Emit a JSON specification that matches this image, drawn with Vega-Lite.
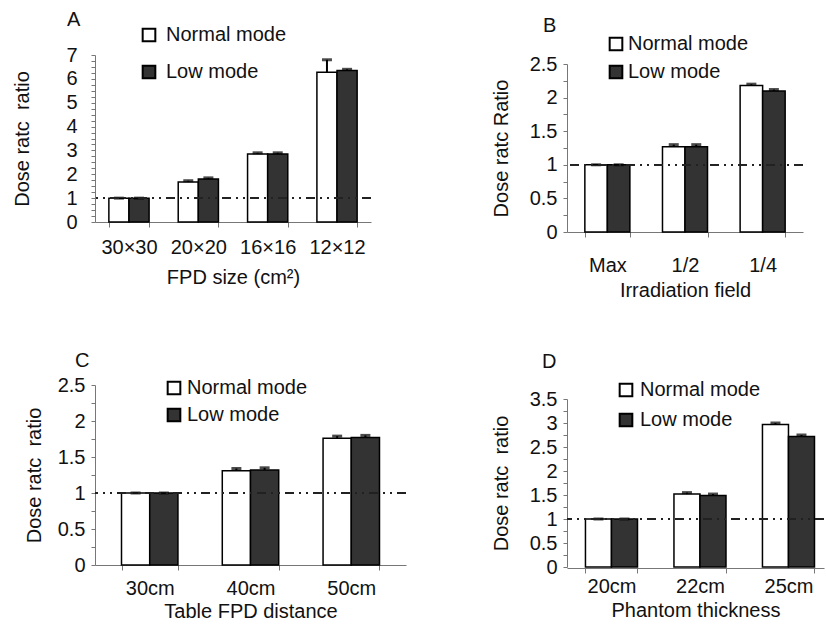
{
  "$schema": "https://vega.github.io/schema/vega-lite/v6.json",
  "background": "white",
  "padding": {"left": 12, "top": 10, "right": 0, "bottom": 0},
  "config": {
    "font": "Liberation Sans",
    "view": {"stroke": null},
    "axis": {"labelFontSize": 20, "titleFontSize": 20, "titleFontWeight": "normal", "labelColor": "#111", "titleColor": "#111", "domainColor": "#777", "tickColor": "#777", "grid": false, "labelOverlap": false, "labelFont": "Liberation Sans", "titleFont": "Liberation Sans"},
    "legend": {"padding": 0, "labelFontSize": 20, "labelColor": "#111", "labelFont": "Liberation Sans", "symbolType": "square", "symbolSize": 160, "symbolStrokeColor": "black", "symbolStrokeWidth": 2},
    "title": {"fontSize": 20, "fontWeight": "normal", "anchor": "start", "frame": "group", "color": "#111", "font": "Liberation Sans"}
  },
  "datasets": {
    "A": [
      {"category": "30×30", "mode": "Normal mode", "value": 1, "hi": 1},
      {"category": "30×30", "mode": "Low mode", "value": 1, "hi": 1},
      {"category": "20×20", "mode": "Normal mode", "value": 1.68, "hi": 1.73},
      {"category": "20×20", "mode": "Low mode", "value": 1.8, "hi": 1.85},
      {"category": "16×16", "mode": "Normal mode", "value": 2.85, "hi": 2.9},
      {"category": "16×16", "mode": "Low mode", "value": 2.85, "hi": 2.9},
      {"category": "12×12", "mode": "Normal mode", "value": 6.28, "hi": 6.8},
      {"category": "12×12", "mode": "Low mode", "value": 6.35, "hi": 6.4}
    ],
    "B": [
      {"category": "Max", "mode": "Normal mode", "value": 1, "hi": 1},
      {"category": "Max", "mode": "Low mode", "value": 1, "hi": 1},
      {"category": "1/2", "mode": "Normal mode", "value": 1.27, "hi": 1.3},
      {"category": "1/2", "mode": "Low mode", "value": 1.27, "hi": 1.3},
      {"category": "1/4", "mode": "Normal mode", "value": 2.18, "hi": 2.2},
      {"category": "1/4", "mode": "Low mode", "value": 2.1, "hi": 2.12}
    ],
    "C": [
      {"category": "30cm", "mode": "Normal mode", "value": 1, "hi": 1},
      {"category": "30cm", "mode": "Low mode", "value": 1, "hi": 1},
      {"category": "40cm", "mode": "Normal mode", "value": 1.31, "hi": 1.34},
      {"category": "40cm", "mode": "Low mode", "value": 1.32, "hi": 1.35},
      {"category": "50cm", "mode": "Normal mode", "value": 1.76, "hi": 1.79},
      {"category": "50cm", "mode": "Low mode", "value": 1.77, "hi": 1.8}
    ],
    "D": [
      {"category": "20cm", "mode": "Normal mode", "value": 1, "hi": 1},
      {"category": "20cm", "mode": "Low mode", "value": 1, "hi": 1},
      {"category": "22cm", "mode": "Normal mode", "value": 1.52, "hi": 1.55},
      {"category": "22cm", "mode": "Low mode", "value": 1.49, "hi": 1.52},
      {"category": "25cm", "mode": "Normal mode", "value": 2.97, "hi": 3.0},
      {"category": "25cm", "mode": "Low mode", "value": 2.72, "hi": 2.75}
    ]
  },
  "bounds": "flush",
  "align": "each",
  "columns": 2,
  "spacing": {"row": 153, "column": 161},
  "resolve": {"scale": {"x": "independent", "y": "independent", "xOffset": "independent", "color": "independent"}, "legend": {"color": "independent"}, "axis": {"x": "independent", "y": "independent"}},
  "concat": [
    {
      "title": {"text": "A", "dx": -28, "dy": 9},
      "width": 276,
      "height": 167,
      "data": {"name": "A"},
      "encoding": {
        "x": {"field": "category", "type": "nominal", "sort": null, "scale": {"paddingInner": 0.42}, "axis": {"title": "FPD size (cm²)", "labelAngle": 0, "tickBand": "extent", "tickSize": 5, "labelPadding": 10, "titlePadding": 10}},
        "xOffset": {"field": "mode", "type": "nominal", "sort": ["Normal mode", "Low mode"]}
      },
      "layer": [
        {
          "mark": {"type": "bar", "stroke": "black", "strokeWidth": 1.5},
          "encoding": {
            "y": {"field": "value", "type": "quantitative", "scale": {"domain": [0, 7], "nice": false}, "axis": {"title": "Dose ratc\u00a0 ratio", "titleX": -63, "values": [0, 0.25, 0.5, 0.75, 1, 1.25, 1.5, 1.75, 2, 2.25, 2.5, 2.75, 3, 3.25, 3.5, 3.75, 4, 4.25, 4.5, 4.75, 5, 5.25, 5.5, 5.75, 6, 6.25, 6.5, 6.75, 7], "labelExpr": "datum.value % 1 == 0 ? format(datum.value, '~g') : ''", "tickSize": 4, "labelPadding": 14}},
            "color": {"field": "mode", "type": "nominal", "scale": {"domain": ["Normal mode", "Low mode"], "range": ["white", "#333333"]}, "legend": {"title": null, "orient": "none", "legendX": 44, "legendY": -30, "rowPadding": 15, "labelOffset": 7}}
          }
        },
        {
          "mark": {"type": "rule", "color": "black", "strokeWidth": 2},
          "encoding": {"y": {"field": "value", "type": "quantitative", "axis": {"title": "Dose ratc\u00a0 ratio", "titleX": -63, "values": [0, 0.25, 0.5, 0.75, 1, 1.25, 1.5, 1.75, 2, 2.25, 2.5, 2.75, 3, 3.25, 3.5, 3.75, 4, 4.25, 4.5, 4.75, 5, 5.25, 5.5, 5.75, 6, 6.25, 6.5, 6.75, 7], "labelExpr": "datum.value % 1 == 0 ? format(datum.value, '~g') : ''", "tickSize": 4, "labelPadding": 14}}, "y2": {"field": "hi"}}
        },
        {
          "mark": {"type": "tick", "color": "black", "thickness": 3, "size": 10},
          "encoding": {"y": {"field": "hi", "type": "quantitative", "axis": {"title": "Dose ratc\u00a0 ratio", "titleX": -63, "values": [0, 0.25, 0.5, 0.75, 1, 1.25, 1.5, 1.75, 2, 2.25, 2.5, 2.75, 3, 3.25, 3.5, 3.75, 4, 4.25, 4.5, 4.75, 5, 5.25, 5.5, 5.75, 6, 6.25, 6.5, 6.75, 7], "labelExpr": "datum.value % 1 == 0 ? format(datum.value, '~g') : ''", "tickSize": 4, "labelPadding": 14}}}
        },
        {
          "mark": {"type": "rule", "color": "#222", "strokeWidth": 1.5, "strokeDash": [9, 5, 2, 5, 2, 5]},
          "encoding": {"y": {"datum": 1, "type": "quantitative", "axis": {"title": "Dose ratc\u00a0 ratio", "titleX": -63, "values": [0, 0.25, 0.5, 0.75, 1, 1.25, 1.5, 1.75, 2, 2.25, 2.5, 2.75, 3, 3.25, 3.5, 3.75, 4, 4.25, 4.5, 4.75, 5, 5.25, 5.5, 5.75, 6, 6.25, 6.5, 6.75, 7], "labelExpr": "datum.value % 1 == 0 ? format(datum.value, '~g') : ''", "tickSize": 4, "labelPadding": 14}}, "x": null, "xOffset": null}
        }
      ]
    },
    {
      "title": {"text": "B", "dx": -24, "dy": 6},
      "width": 236,
      "height": 177,
      "data": {"name": "B"},
      "encoding": {
        "x": {"field": "category", "type": "nominal", "sort": null, "scale": {"paddingInner": 0.42, "paddingOuter": 0.23}, "axis": {"title": "Irradiation field", "labelAngle": 0, "tickBand": "extent", "tickSize": 5, "labelPadding": 18, "titlePadding": 5}},
        "xOffset": {"field": "mode", "type": "nominal", "sort": ["Normal mode", "Low mode"]}
      },
      "layer": [
        {
          "mark": {"type": "bar", "stroke": "black", "strokeWidth": 1.5},
          "encoding": {
            "y": {"field": "value", "type": "quantitative", "scale": {"domain": [0, 2.5], "nice": false, "range": [177, 9]}, "axis": {"title": "Dose ratc Ratio", "titleX": -56, "values": [0, 0.25, 0.5, 0.75, 1, 1.25, 1.5, 1.75, 2, 2.25, 2.5], "labelExpr": "(datum.value * 2) % 1 == 0 ? format(datum.value, '~g') : ''", "tickSize": 4, "labelPadding": 6}},
            "color": {"field": "mode", "type": "nominal", "scale": {"domain": ["Normal mode", "Low mode"], "range": ["white", "#333333"]}, "legend": {"title": null, "orient": "none", "legendX": 39, "legendY": -21, "rowPadding": 6, "labelOffset": 2}}
          }
        },
        {
          "mark": {"type": "rule", "color": "black", "strokeWidth": 2},
          "encoding": {"y": {"field": "value", "type": "quantitative", "axis": {"title": "Dose ratc Ratio", "titleX": -56, "values": [0, 0.25, 0.5, 0.75, 1, 1.25, 1.5, 1.75, 2, 2.25, 2.5], "labelExpr": "(datum.value * 2) % 1 == 0 ? format(datum.value, '~g') : ''", "tickSize": 4, "labelPadding": 6}}, "y2": {"field": "hi"}}
        },
        {
          "mark": {"type": "tick", "color": "black", "thickness": 3, "size": 10},
          "encoding": {"y": {"field": "hi", "type": "quantitative", "axis": {"title": "Dose ratc Ratio", "titleX": -56, "values": [0, 0.25, 0.5, 0.75, 1, 1.25, 1.5, 1.75, 2, 2.25, 2.5], "labelExpr": "(datum.value * 2) % 1 == 0 ? format(datum.value, '~g') : ''", "tickSize": 4, "labelPadding": 6}}}
        },
        {
          "mark": {"type": "rule", "color": "#222", "strokeWidth": 1.5, "strokeDash": [9, 5, 2, 5, 2, 5]},
          "encoding": {"y": {"datum": 1, "type": "quantitative", "axis": {"title": "Dose ratc Ratio", "titleX": -56, "values": [0, 0.25, 0.5, 0.75, 1, 1.25, 1.5, 1.75, 2, 2.25, 2.5], "labelExpr": "(datum.value * 2) % 1 == 0 ? format(datum.value, '~g') : ''", "tickSize": 4, "labelPadding": 6}}, "x": null, "xOffset": null}
        }
      ]
    },
    {
      "title": {"text": "C", "dx": -20},
      "width": 311,
      "height": 180,
      "data": {"name": "C"},
      "encoding": {
        "x": {"field": "category", "type": "nominal", "sort": null, "scale": {"paddingInner": 0.44, "paddingOuter": 0.263}, "axis": {"title": "Table FPD distance", "labelAngle": 0, "tickBand": "extent", "tickSize": 5, "labelPadding": 8, "titlePadding": 3}},
        "xOffset": {"field": "mode", "type": "nominal", "sort": ["Normal mode", "Low mode"]}
      },
      "layer": [
        {
          "mark": {"type": "bar", "stroke": "black", "strokeWidth": 1.5},
          "encoding": {
            "y": {"field": "value", "type": "quantitative", "scale": {"domain": [0, 2.5], "nice": false}, "axis": {"title": "Dose ratc\u00a0 ratio", "titleX": -51, "values": [0, 0.25, 0.5, 0.75, 1, 1.25, 1.5, 1.75, 2, 2.25, 2.5], "labelExpr": "(datum.value * 2) % 1 == 0 ? format(datum.value, '~g') : ''", "tickSize": 4, "labelPadding": 6}},
            "color": {"field": "mode", "type": "nominal", "scale": {"domain": ["Normal mode", "Low mode"], "range": ["white", "#333333"]}, "legend": {"title": null, "orient": "none", "legendX": 69, "legendY": -7, "rowPadding": 5, "labelOffset": 3}}
          }
        },
        {
          "mark": {"type": "rule", "color": "black", "strokeWidth": 2},
          "encoding": {"y": {"field": "value", "type": "quantitative", "axis": {"title": "Dose ratc\u00a0 ratio", "titleX": -51, "values": [0, 0.25, 0.5, 0.75, 1, 1.25, 1.5, 1.75, 2, 2.25, 2.5], "labelExpr": "(datum.value * 2) % 1 == 0 ? format(datum.value, '~g') : ''", "tickSize": 4, "labelPadding": 6}}, "y2": {"field": "hi"}}
        },
        {
          "mark": {"type": "tick", "color": "black", "thickness": 3, "size": 10},
          "encoding": {"y": {"field": "hi", "type": "quantitative", "axis": {"title": "Dose ratc\u00a0 ratio", "titleX": -51, "values": [0, 0.25, 0.5, 0.75, 1, 1.25, 1.5, 1.75, 2, 2.25, 2.5], "labelExpr": "(datum.value * 2) % 1 == 0 ? format(datum.value, '~g') : ''", "tickSize": 4, "labelPadding": 6}}}
        },
        {
          "mark": {"type": "rule", "color": "#222", "strokeWidth": 1.5, "strokeDash": [9, 5, 2, 5, 2, 5]},
          "encoding": {"y": {"datum": 1, "type": "quantitative", "axis": {"title": "Dose ratc\u00a0 ratio", "titleX": -51, "values": [0, 0.25, 0.5, 0.75, 1, 1.25, 1.5, 1.75, 2, 2.25, 2.5], "labelExpr": "(datum.value * 2) % 1 == 0 ? format(datum.value, '~g') : ''", "tickSize": 4, "labelPadding": 6}}, "x": null, "xOffset": null}
        }
      ]
    },
    {
      "title": {"text": "D", "dx": -25, "dy": -4},
      "width": 257,
      "height": 183,
      "data": {"name": "D"},
      "encoding": {
        "x": {"field": "category", "type": "nominal", "sort": null, "scale": {"paddingInner": 0.412, "paddingOuter": 0.158, "align": 0.66}, "axis": {"title": "Phantom thickness", "labelAngle": 0, "tickBand": "extent", "tickSize": 5, "labelPadding": 3, "titlePadding": 4}},
        "xOffset": {"field": "mode", "type": "nominal", "sort": ["Normal mode", "Low mode"]}
      },
      "layer": [
        {
          "mark": {"type": "bar", "stroke": "black", "strokeWidth": 1.5},
          "encoding": {
            "y": {"field": "value", "type": "quantitative", "scale": {"domain": [0, 3.5], "nice": false, "range": [182, 14]}, "axis": {"title": "Dose ratc\u00a0 ratio", "titleX": -56, "values": [0, 0.25, 0.5, 0.75, 1, 1.25, 1.5, 1.75, 2, 2.25, 2.5, 2.75, 3, 3.25, 3.5], "labelExpr": "(datum.value * 2) % 1 == 0 ? format(datum.value, '~g') : ''", "tickSize": 4, "labelPadding": 6}},
            "color": {"field": "mode", "type": "nominal", "scale": {"domain": ["Normal mode", "Low mode"], "range": ["white", "#333333"]}, "legend": {"title": null, "orient": "none", "legendX": 49, "legendY": -5, "rowPadding": 8, "labelOffset": 4}}
          }
        },
        {
          "mark": {"type": "rule", "color": "black", "strokeWidth": 2},
          "encoding": {"y": {"field": "value", "type": "quantitative", "axis": {"title": "Dose ratc\u00a0 ratio", "titleX": -56, "values": [0, 0.25, 0.5, 0.75, 1, 1.25, 1.5, 1.75, 2, 2.25, 2.5, 2.75, 3, 3.25, 3.5], "labelExpr": "(datum.value * 2) % 1 == 0 ? format(datum.value, '~g') : ''", "tickSize": 4, "labelPadding": 6}}, "y2": {"field": "hi"}}
        },
        {
          "mark": {"type": "tick", "color": "black", "thickness": 3, "size": 10},
          "encoding": {"y": {"field": "hi", "type": "quantitative", "axis": {"title": "Dose ratc\u00a0 ratio", "titleX": -56, "values": [0, 0.25, 0.5, 0.75, 1, 1.25, 1.5, 1.75, 2, 2.25, 2.5, 2.75, 3, 3.25, 3.5], "labelExpr": "(datum.value * 2) % 1 == 0 ? format(datum.value, '~g') : ''", "tickSize": 4, "labelPadding": 6}}}
        },
        {
          "mark": {"type": "rule", "color": "#222", "strokeWidth": 1.5, "strokeDash": [9, 5, 2, 5, 2, 5]},
          "encoding": {"y": {"datum": 1, "type": "quantitative", "axis": {"title": "Dose ratc\u00a0 ratio", "titleX": -56, "values": [0, 0.25, 0.5, 0.75, 1, 1.25, 1.5, 1.75, 2, 2.25, 2.5, 2.75, 3, 3.25, 3.5], "labelExpr": "(datum.value * 2) % 1 == 0 ? format(datum.value, '~g') : ''", "tickSize": 4, "labelPadding": 6}}, "x": null, "xOffset": null}
        }
      ]
    }
  ]
}
